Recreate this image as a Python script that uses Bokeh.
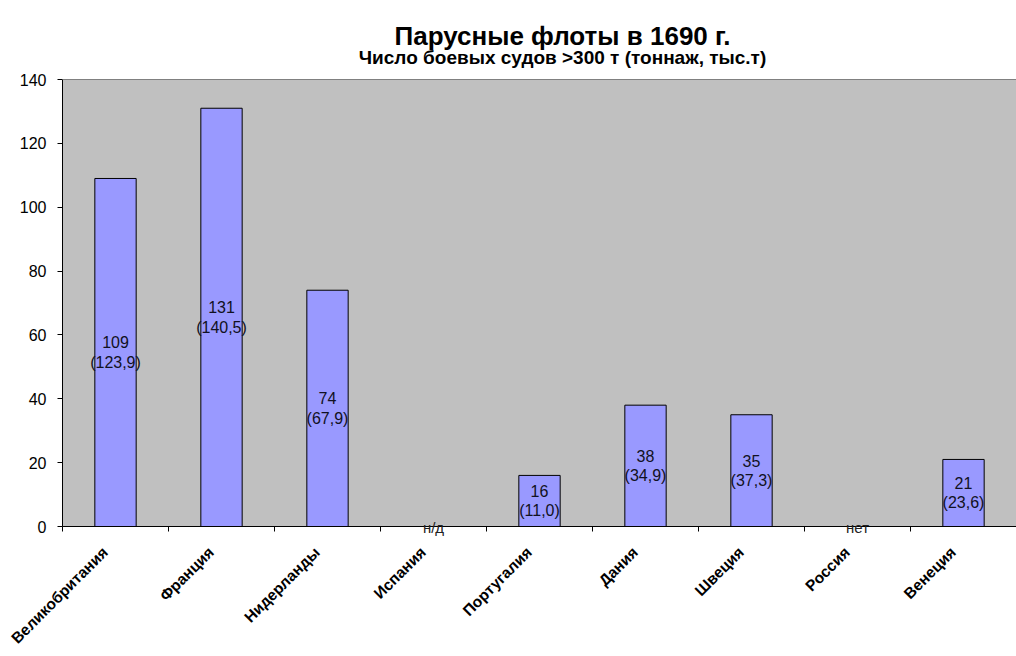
import math
from bokeh.plotting import figure
from bokeh.models import FixedTicker, ColumnDataSource, Range1d, LinearAxis, Span
from bokeh.core.properties import value
from bokeh.embed import file_html
from bokeh.resources import INLINE

title_text = "Парусные флоты в 1690 г."
subtitle_text = "Число боевых судов >300 т (тоннаж, тыс.т)"
countries = ["Великобритания", "Франция", "Нидерланды", "Испания", "Португалия",
             "Дания", "Швеция", "Россия", "Венеция"]
ships = [109, 131, 74, None, 16, 38, 35, None, 21]
tonnage = ["123,9", "140,5", "67,9", None, "11,0", "34,9", "37,3", None, "23,6"]
missing = {3: "н/д", 7: "нет"}
y_ticks = [0, 20, 40, 60, 80, 100, 120, 140]
Y_MAX = 140

FONT = "Liberation Sans"
W, H = 1016, 656
LEFT, BOTTOM = 62, 130
PLOT_TOP_PX = 79                      # top of the grey plotting area, px from the top
FRAME_H = H - BOTTOM                  # frame reaches the top of the canvas
Y_TOP = Y_MAX * FRAME_H / (FRAME_H - PLOT_TOP_PX)   # room above 140 for the heading
X0, X1 = -0.5, len(countries) - 0.5


def px_to_x(px):
    return X0 + (px - LEFT) * (X1 - X0) / (W - LEFT)


def px_to_y(py):
    return Y_TOP * (FRAME_H - py) / FRAME_H


p = figure(width=W, height=H, x_range=Range1d(X0, X1), y_range=Range1d(0, Y_TOP),
           output_backend="svg", toolbar_location=None, title=None,
           min_border_left=LEFT, min_border_right=0, min_border_top=0,
           min_border_bottom=BOTTOM)
p.background_fill_color = "white"
p.border_fill_color = "white"
p.outline_line_color = None

# grey plotting area
p.quad(left=[X0], right=[X1], bottom=[0], top=[Y_MAX], fill_color="#C0C0C0", line_color=None)
p.add_layout(Span(location=Y_MAX, dimension="width", line_color="#808080", line_width=1))

# heading
p.text(x=[px_to_x(562)], y=[px_to_y(35)], text=[title_text], text_align="center",
       text_baseline="alphabetic", text_font=value(FONT), text_font_style="bold",
       text_font_size="26px", text_color="black")
p.text(x=[px_to_x(562)], y=[px_to_y(57)], text=[subtitle_text], text_align="center",
       text_baseline="alphabetic", text_font=value(FONT), text_font_style="bold",
       text_font_size="19px", text_color="black")

idx = [i for i, v in enumerate(ships) if v is not None]
src = ColumnDataSource(dict(
    x=idx,
    top=[ships[i] for i in idx],
    mid=[ships[i] / 2 for i in idx],
    l1=[str(ships[i]) for i in idx],
    l2=["(" + tonnage[i] + ")" for i in idx],
))

p.ygrid.ticker = FixedTicker(ticks=[20, 40, 60, 80, 100, 120])
p.ygrid.grid_line_color = "black"
p.ygrid.grid_line_width = 1
p.xgrid.grid_line_color = None

p.vbar(x="x", top="top", width=0.39, source=src, fill_color="#9999FF",
       line_color="black", line_width=1)

p.text(x="x", y="mid", text="l1", source=src, y_offset=-10, text_align="center",
       text_baseline="middle", text_font_size="16px", text_font=value(FONT), text_color="#111122")
p.text(x="x", y="mid", text="l2", source=src, y_offset=10, text_align="center",
       text_baseline="middle", text_font_size="16px", text_font=value(FONT), text_color="#111122")

# axis next to the plot: category boundary ticks and the "н/д" / "нет" notes
xa = p.xaxis[0]
xa.ticker = FixedTicker(ticks=list(missing.keys()),
                        minor_ticks=[i - 0.5 for i in range(len(countries) + 1)])
xa.major_label_overrides = dict(missing)
xa.major_tick_out = 0
xa.major_tick_in = 0
xa.minor_tick_out = 5
xa.minor_tick_in = 0
xa.minor_tick_line_color = "black"
xa.axis_line_color = "black"
xa.major_label_text_font = FONT
xa.major_label_text_font_size = "15px"
xa.major_label_text_color = "#222222"
xa.major_label_standoff = -13

# axis below it: rotated country names
label_pos = [round(i - 0.1, 3) for i in range(len(countries))]
xb = LinearAxis(ticker=FixedTicker(ticks=label_pos, minor_ticks=[]))
xb.major_label_overrides = {pos: c for pos, c in zip(label_pos, countries)}
xb.major_label_orientation = math.pi / 4
xb.axis_line_color = None
xb.major_tick_line_color = None
xb.minor_tick_line_color = None
xb.major_tick_out = 0
xb.major_tick_in = 0
xb.major_label_text_font = FONT
xb.major_label_text_font_style = "bold"
xb.major_label_text_font_size = "15.5px"
xb.major_label_text_color = "black"
xb.major_label_standoff = 11
p.add_layout(xb, "below")

ya = p.yaxis[0]
ya.ticker = FixedTicker(ticks=y_ticks, minor_ticks=[])
ya.bounds = (0, Y_MAX)
ya.major_tick_out = 5
ya.major_tick_in = 0
ya.major_tick_line_color = "black"
ya.axis_line_color = "black"
ya.major_label_text_font = FONT
ya.major_label_text_font_size = "16px"
ya.major_label_text_color = "black"
ya.major_label_standoff = 11

open("out.html", "w").write(file_html(p, INLINE))
